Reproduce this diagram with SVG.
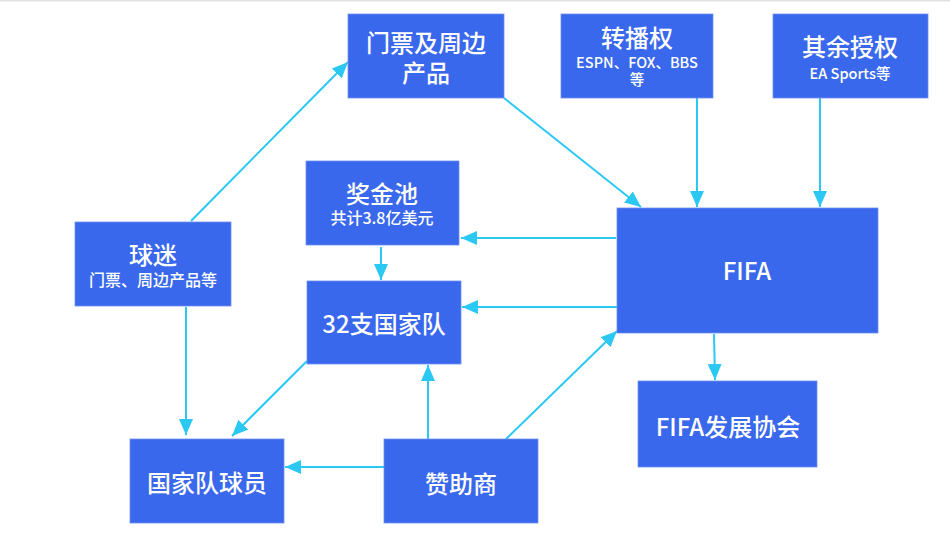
<svg xmlns="http://www.w3.org/2000/svg" width="950" height="537" viewBox="0 0 950 537">
<style>
.box{fill:#3968ED;stroke:#6F8FF2;stroke-width:0.8}
.t{fill:#ffffff;font-family:"Noto Sans CJK SC","Noto Sans",sans-serif;text-anchor:middle;font-weight:500}
.big{font-size:24px}
.sm{font-size:14.5px}
.mid{font-size:16px}
.c{stroke:#2BC8F4;stroke-width:2;fill:none;marker-end:url(#ah)}
</style>
<defs>
<marker id="ah" markerUnits="userSpaceOnUse" markerWidth="17" markerHeight="15" refX="16" refY="7" orient="auto">
<path d="M0,0 L16,7 L0,14 Z" fill="#2BC8F4"/>
</marker>
</defs>
<rect x="0" y="0" width="950" height="537" fill="#ffffff"/>
<rect x="0" y="0" width="950" height="1.5" fill="#e2e2e2"/>
<g id="connectors">
<line class="c" x1="191" y1="221" x2="348" y2="62"/>
<line class="c" x1="504" y1="98" x2="641" y2="207"/>
<line class="c" x1="697" y1="98" x2="697" y2="207"/>
<line class="c" x1="820" y1="98" x2="820" y2="207"/>
<line class="c" x1="616" y1="238" x2="461" y2="238"/>
<line class="c" x1="617" y1="307" x2="462" y2="307"/>
<line class="c" x1="506" y1="439" x2="617" y2="331"/>
<line class="c" x1="714" y1="334" x2="715" y2="380"/>
<line class="c" x1="381" y1="247" x2="381" y2="280"/>
<line class="c" x1="307" y1="361" x2="232" y2="436"/>
<line class="c" x1="186" y1="307" x2="186" y2="435"/>
<line class="c" x1="384" y1="467" x2="285" y2="467"/>
<line class="c" x1="428" y1="439" x2="428" y2="365"/>
</g>
<g id="n-tickets">
<rect class="box" x="348" y="14" width="156" height="84"/>
<text class="t big" x="426" y="51.5">门票及周边</text>
<text class="t big" x="426" y="81.5">产品</text>
</g>
<g id="n-broadcast">
<rect class="box" x="561" y="14" width="152" height="84"/>
<text class="t big" x="637" y="46.5">转播权</text>
<text class="t sm" x="637" y="68">ESPN、FOX、BBS</text>
<text class="t sm" x="637" y="84.5">等</text>
</g>
<g id="n-other">
<rect class="box" x="773" y="14" width="155" height="84"/>
<text class="t big" x="850" y="56">其余授权</text>
<text class="t sm" x="850" y="79">EA Sports等</text>
</g>
<g id="n-prize">
<rect class="box" x="306" y="161" width="153" height="84"/>
<text class="t big" x="382" y="203">奖金池</text>
<text class="t mid" x="382" y="224">共计3.8亿美元</text>
</g>
<g id="n-fans">
<rect class="box" x="75" y="222" width="156" height="84"/>
<text class="t big" x="153" y="264">球迷</text>
<text class="t mid" x="153" y="286">门票、周边产品等</text>
</g>
<g id="n-teams">
<rect class="box" x="307" y="281" width="154" height="83"/>
<text class="t big" x="384" y="333">32支国家队</text>
</g>
<g id="n-fifa">
<rect class="box" x="617" y="208" width="261" height="125"/>
<text class="t big" x="747" y="280">FIFA</text>
</g>
<g id="n-dev">
<rect class="box" x="638" y="381" width="179" height="86"/>
<text class="t big" x="728" y="436">FIFA发展协会</text>
</g>
<g id="n-players">
<rect class="box" x="130" y="439" width="154" height="84"/>
<text class="t big" x="207" y="492">国家队球员</text>
</g>
<g id="n-sponsor">
<rect class="box" x="384" y="439" width="154" height="84"/>
<text class="t big" x="461" y="493">赞助商</text>
</g>
</svg>
